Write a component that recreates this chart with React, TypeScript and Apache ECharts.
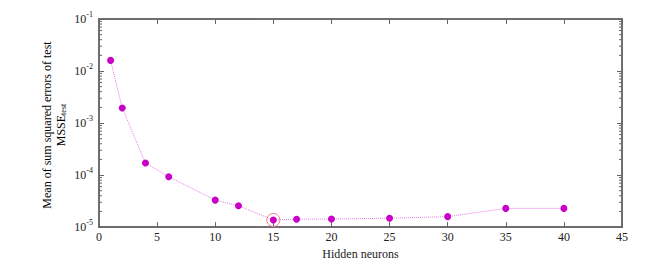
import React, { useEffect, useRef } from "react";
import * as echarts from "echarts";

const neurons = [1, 2, 4, 6, 10, 12, 15, 17, 20, 25, 30, 35, 40];
const msse = [1.6e-2, 1.95e-3, 1.7e-4, 9.3e-5, 3.3e-5, 2.57e-5, 1.37e-5, 1.42e-5, 1.43e-5, 1.48e-5, 1.59e-5, 2.29e-5, 2.29e-5];
const bestNeurons = 15;
const bestMsse = 1.37e-5;
const yMin = 1e-5;
const yMax = 1e-1;
const xTicksMax = 45;
const minorMultipliers = [2, 3, 4, 5, 6, 7, 8, 9];
const decades = [1e-5, 1e-4, 1e-3, 1e-2];

const FONT = "Liberation Serif";
const AXIS_COLOR = "#666666";
const TEXT_COLOR = "#222";

const mkLine = () => ({ show: true, onZero: false, lineStyle: { color: AXIS_COLOR, width: 1.5 } });
const mkTick = () => ({ show: true, inside: true, length: 5, lineStyle: { color: AXIS_COLOR, width: 1 } });

export default function App() {
  const ref = useRef<HTMLDivElement>(null);
  useEffect(() => {
    if (!ref.current) return;
    const chart = echarts.init(ref.current, undefined, { renderer: "svg" });
    const minorVals: number[][] = [];
    decades.forEach((d) => minorMultipliers.forEach((m) => minorVals.push([0, d * m])));

    chart.setOption({
      animation: false,
      grid: {
        left: 91,
        top: 11,
        right: 29,
        bottom: 34,
        containLabel: false,
        show: true,
        borderColor: AXIS_COLOR,
        borderWidth: 1.5,
      },
      xAxis: [
        {
          type: "value",
          min: 0,
          max: xTicksMax,
          interval: 5,
          position: "bottom",
          axisLine: mkLine(),
          axisTick: mkTick(),
          splitLine: { show: false },
          axisLabel: { color: TEXT_COLOR, fontFamily: FONT, fontSize: 12, margin: 4 },
          name: "Hidden neurons",
          nameLocation: "middle",
          nameGap: 20,
          nameTextStyle: { color: TEXT_COLOR, fontFamily: FONT, fontSize: 12 },
        },
        {
          type: "value",
          min: 0,
          max: xTicksMax,
          interval: 5,
          position: "top",
          axisLine: mkLine(),
          axisTick: mkTick(),
          splitLine: { show: false },
          axisLabel: { show: false },
        },
      ],
      yAxis: [
        {
          type: "log",
          min: yMin,
          max: yMax,
          logBase: 10,
          position: "left",
          axisLine: mkLine(),
          axisTick: mkTick(),
          splitLine: { show: false },
          axisLabel: {
            margin: 6,
            formatter: (v: number) => `{b|10}{s|${Math.round(Math.log10(v))}}`,
            rich: {
              b: { fontFamily: FONT, fontSize: 12, color: TEXT_COLOR },
              s: { fontFamily: FONT, fontSize: 8, color: TEXT_COLOR, padding: [0, 0, 9, 0] },
            },
          },
        },
        {
          type: "log",
          min: yMin,
          max: yMax,
          logBase: 10,
          position: "right",
          axisLine: mkLine(),
          axisTick: mkTick(),
          splitLine: { show: false },
          axisLabel: { show: false },
        },
      ],
      graphic: [
        {
          type: "text",
          x: 46,
          y: 117,
          rotation: Math.PI / 2,
          style: {
            text: "{a|Mean of sum squared errors of test}\n{a|MSSE}{s|test}",
            align: "center",
            verticalAlign: "middle",
            rich: {
              a: { fontFamily: FONT, fontSize: 12, color: TEXT_COLOR, lineHeight: 14 },
              s: { fontFamily: FONT, fontSize: 8, color: TEXT_COLOR, padding: [5, 0, 0, 0], lineHeight: 14 },
            },
          },
        },
      ],
      series: [
        {
          type: "custom",
          xAxisIndex: 0,
          yAxisIndex: 0,
          data: minorVals,
          silent: true,
          clip: false,
          renderItem: (params: any, api: any) => {
            const cs = params.coordSys;
            const y = api.coord([0, api.value(1)])[1];
            const x0 = cs.x;
            const x1 = cs.x + cs.width;
            return {
              type: "group",
              children: [
                { type: "line", shape: { x1: x0, y1: y, x2: x0 + 3, y2: y }, style: { stroke: AXIS_COLOR, lineWidth: 1 } },
                { type: "line", shape: { x1: x1 - 3, y1: y, x2: x1, y2: y }, style: { stroke: AXIS_COLOR, lineWidth: 1 } },
              ],
            };
          },
        },
        {
          type: "line",
          xAxisIndex: 0,
          yAxisIndex: 0,
          data: neurons.map((n, i) => [n, msse[i]]),
          symbol: "circle",
          symbolSize: 7,
          itemStyle: { color: "#c800c8" },
          lineStyle: { color: "#e67ae6", width: 1, type: "dotted" },
          markPoint: {
            symbol: "circle",
            symbolSize: 13,
            label: { show: false },
            itemStyle: { color: "rgba(0,0,0,0)", borderColor: "#f07a8a", borderWidth: 1 },
            data: [{ coord: [bestNeurons, bestMsse] }],
          },
        },
      ],
    });
    return () => chart.dispose();
  }, []);
  return <div ref={ref} style={{ width: 643, height: 257 }} />;
}
